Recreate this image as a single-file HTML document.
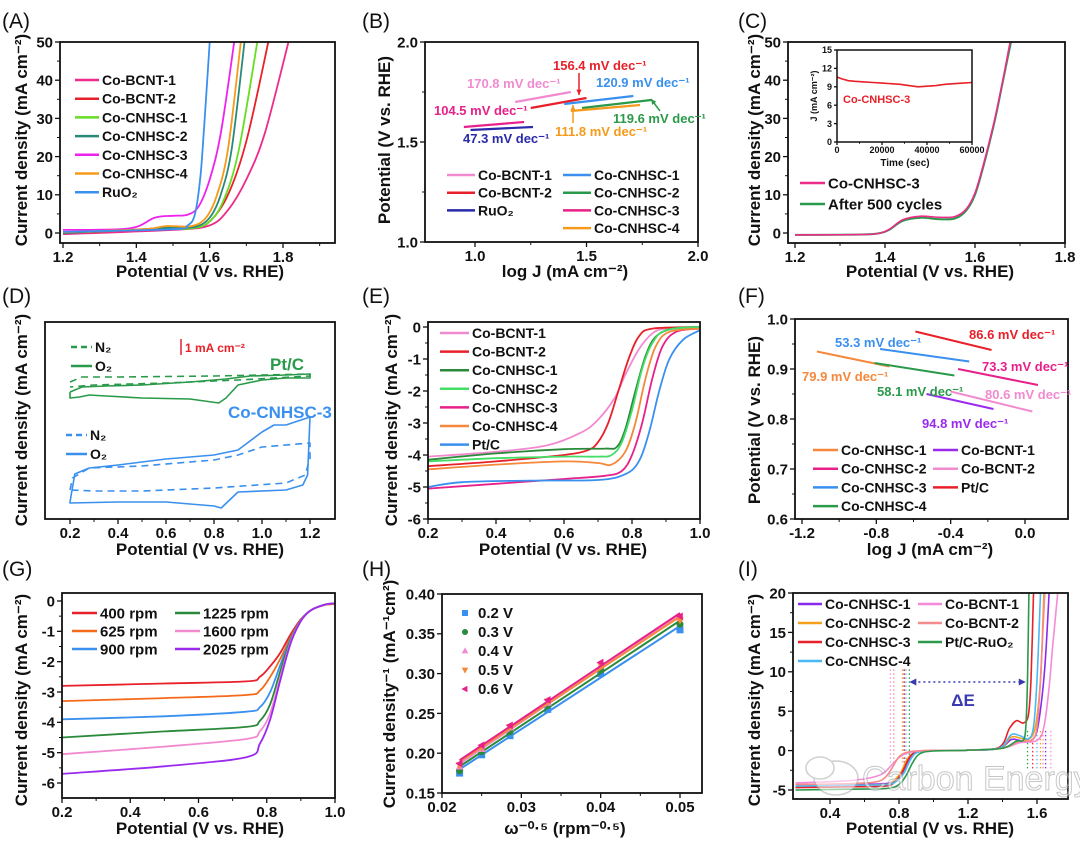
<!DOCTYPE html>
<html><head><meta charset="utf-8"><style>
html,body{margin:0;padding:0;background:#fff;}
svg{display:block;font-family:"Liberation Sans",Arial,sans-serif;}
</style></head><body>
<svg id="fig" width="1080" height="841" viewBox="0 0 1080 841" xmlns="http://www.w3.org/2000/svg"></svg>
<script>
// ===== DATA =====
// Panel A (OER LSV)
const aNames=["Co-BCNT-1","Co-BCNT-2","Co-CNHSC-1","Co-CNHSC-2","Co-CNHSC-3","Co-CNHSC-4","RuO₂"];
const aColors=["#ee2a8a","#e8202a","#66dd22","#2a8a7a","#ee22ee","#f59a1a","#3a90ee"];
const aBCNT1=[[1.2,-0.3],[1.5,0.8],[1.6,2],[1.65,6],[1.7,14],[1.75,26],[1.815,50]];
const aBCNT2=[[1.2,0],[1.45,1],[1.55,1.2],[1.6,3],[1.65,10],[1.7,24],[1.76,50]];
const aCN1=[[1.2,0],[1.45,1],[1.55,1.2],[1.6,3],[1.64,9],[1.68,22],[1.73,50]];
const aCN2=[[1.2,0],[1.42,1],[1.5,1.5],[1.56,1.6],[1.6,4],[1.63,10],[1.66,22],[1.695,50]];
const aCN3=[[1.2,0.8],[1.38,1.2],[1.45,4],[1.5,4.5],[1.54,4.8],[1.57,7],[1.6,14],[1.63,26],[1.667,50]];
const aCN4=[[1.2,0.2],[1.42,1],[1.48,1.8],[1.55,1.8],[1.59,4],[1.62,10],[1.65,22],[1.685,50]];
const aRuO2=[[1.2,0.3],[1.5,1],[1.54,2],[1.56,5],[1.575,15],[1.585,28],[1.6,50]];
// Panel B (Tafel OER) segments [x1,y1,x2,y2]
const bNames=["Co-BCNT-1","Co-BCNT-2","RuO₂","Co-CNHSC-1","Co-CNHSC-2","Co-CNHSC-3","Co-CNHSC-4"];
const bColors=["#f28ad0","#e8202a","#2a2aaa","#3a90ee","#2a9a4a","#e8208a","#f59a1a"];
const bSegs=[[1.18,1.70,1.43,1.75],[1.25,1.67,1.5,1.72],[0.98,1.56,1.26,1.575],[1.4,1.69,1.71,1.73],[1.48,1.67,1.79,1.71],[0.95,1.575,1.22,1.60],[1.43,1.655,1.74,1.685]];
// Panel C
const cFresh=[[1.2,-0.5],[1.35,-0.4],[1.39,0],[1.41,1],[1.44,3.5],[1.48,4.4],[1.52,4.1],[1.555,4.3],[1.58,6.2],[1.6,10.5],[1.62,18.5],[1.645,30.5],[1.665,42],[1.678,50]];
const cAfter=[[1.2,-0.5],[1.35,-0.4],[1.39,0],[1.41,0.9],[1.44,3.2],[1.48,4.0],[1.52,3.6],[1.555,3.8],[1.58,5.8],[1.6,10],[1.62,18],[1.645,30],[1.665,41.5],[1.68,50]];
const cTime=[0,2000,5000,8000,12000,16000,20000,24000,28000,32000,36000,40000,44000,48000,52000,56000,60000];
const cJ=[10.6,10.3,10.0,9.9,9.8,9.7,9.6,9.5,9.4,9.2,9.0,9.1,9.2,9.4,9.5,9.6,9.7];
// Panel D (CV, arbitrary units)
const dPtO2=[[0.2,127],[0.25,132],[0.35,133],[0.5,134],[0.7,137],[0.85,140],[0.95,143],[1.1,144],[1.2,145],[1.2,141],[1.1,141],[1.0,139],[0.9,134],[0.85,121],[0.82,116],[0.7,120],[0.5,121],[0.35,123],[0.28,124],[0.24,122],[0.2,121],[0.2,127]];
const dPtN2=[[0.2,137],[0.25,142],[0.4,142],[0.8,143],[1.2,145],[1.2,143],[0.9,139],[0.6,136],[0.3,134],[0.2,132]];
const dCoO2=[[0.2,17],[0.22,45],[0.28,51],[0.4,54],[0.6,60],[0.8,64],[0.9,69],[1.0,87],[1.05,94],[1.1,94],[1.2,102],[1.19,44],[1.17,34],[1.1,29],[0.9,27],[0.83,11],[0.8,13],[0.6,17],[0.4,17],[0.2,16],[0.2,17]];
const dCoN2=[[0.2,29],[0.21,41],[0.28,51],[0.5,53],[0.8,59],[0.9,64],[1.0,72],[1.2,76],[1.2,61],[1.18,44],[1.1,36],[0.8,31],[0.5,28],[0.3,28],[0.2,29]];
// Panel E (ORR LSV)
const eNames=["Co-BCNT-1","Co-BCNT-2","Co-CNHSC-1","Co-CNHSC-2","Co-CNHSC-3","Co-CNHSC-4","Pt/C"];
const eColors=["#f28ad0","#e8202a","#2a8a3a","#44dd66","#e8208a","#f5883a","#3a90ee"];
const eBCNT1=[[0.2,-4.05],[0.4,-3.9],[0.55,-3.7],[0.65,-3.3],[0.7,-2.9],[0.75,-2.2],[0.78,-1.5],[0.82,-0.7],[0.86,-0.2],[0.9,-0.05],[1.0,0]];
const eBCNT2=[[0.2,-4.35],[0.4,-4.2],[0.6,-4.0],[0.67,-3.85],[0.7,-3.6],[0.73,-3.0],[0.76,-2.0],[0.79,-1.0],[0.82,-0.3],[0.86,-0.05],[1.0,0]];
const eCN1=[[0.2,-4.15],[0.4,-3.95],[0.6,-3.82],[0.72,-3.8],[0.755,-3.75],[0.78,-3.2],[0.81,-2.0],[0.84,-0.9],[0.87,-0.3],[0.92,-0.05],[1.0,0]];
const eCN2=[[0.2,-4.2],[0.4,-4.1],[0.6,-4.05],[0.7,-4.05],[0.74,-4.0],[0.77,-3.6],[0.8,-2.6],[0.83,-1.3],[0.86,-0.5],[0.9,-0.1],[1.0,0]];
const eCN3=[[0.2,-5.05],[0.4,-4.9],[0.6,-4.75],[0.72,-4.65],[0.77,-4.5],[0.8,-4.0],[0.83,-3.0],[0.86,-1.6],[0.89,-0.6],[0.93,-0.15],[1.0,-0.05]];
const eCN4=[[0.2,-4.45],[0.4,-4.3],[0.6,-4.2],[0.7,-4.25],[0.74,-4.3],[0.78,-3.9],[0.81,-3.0],[0.84,-1.6],[0.87,-0.6],[0.91,-0.15],[1.0,-0.05]];
const ePt=[[0.2,-5.0],[0.3,-4.85],[0.5,-4.8],[0.7,-4.78],[0.78,-4.6],[0.82,-4.2],[0.85,-3.3],[0.88,-2.0],[0.91,-1.0],[0.95,-0.4],[1.0,-0.1]];
// Panel F (Tafel ORR)
const fNames=["Co-CNHSC-1","Co-CNHSC-2","Co-CNHSC-3","Co-CNHSC-4","Co-BCNT-1","Co-BCNT-2","Pt/C"];
const fColors=["#f5883a","#e8208a","#3a90ee","#2a9a4a","#9a2aee","#f28ad0","#e8202a"];
const fSegs=[[-1.12,0.935,-0.73,0.905],[-0.36,0.90,0.07,0.868],[-0.78,0.94,-0.3,0.915],[-0.81,0.912,-0.38,0.887],[-0.53,0.85,-0.17,0.82],[-0.4,0.855,0.04,0.815],[-0.59,0.975,-0.18,0.938]];
// Panel G (RDE)
const gNames=["400 rpm","625 rpm","900 rpm","1225 rpm","1600 rpm","2025 rpm"];
const gColors=["#e8202a","#f56a1a","#3a90ee","#2a8a3a","#f28ad0","#9a2aee"];
const g400=[[0.2,-2.8],[0.5,-2.72],[0.74,-2.65],[0.78,-2.5],[0.81,-2.15],[0.84,-1.7],[0.87,-1.1],[0.9,-0.6],[0.93,-0.3],[0.97,-0.13],[1.0,-0.1]];
const g625=[[0.2,-3.3],[0.5,-3.2],[0.74,-3.1],[0.78,-2.95],[0.81,-2.5],[0.84,-1.9],[0.87,-1.2],[0.9,-0.62],[0.93,-0.3],[0.97,-0.13],[1.0,-0.1]];
const g900=[[0.2,-3.9],[0.5,-3.8],[0.74,-3.65],[0.78,-3.5],[0.81,-3.0],[0.84,-2.1],[0.87,-1.25],[0.9,-0.63],[0.93,-0.3],[0.97,-0.12],[1.0,-0.08]];
const g1225=[[0.2,-4.5],[0.5,-4.3],[0.74,-4.15],[0.78,-3.95],[0.81,-3.4],[0.84,-2.3],[0.87,-1.3],[0.9,-0.64],[0.93,-0.3],[0.97,-0.12],[1.0,-0.08]];
const g1600=[[0.2,-5.05],[0.5,-4.8],[0.74,-4.55],[0.78,-4.3],[0.81,-3.7],[0.84,-2.5],[0.87,-1.35],[0.9,-0.65],[0.93,-0.3],[0.97,-0.12],[1.0,-0.08]];
const g2025=[[0.2,-5.7],[0.5,-5.45],[0.74,-5.15],[0.78,-4.7],[0.81,-3.9],[0.84,-2.6],[0.87,-1.4],[0.9,-0.66],[0.93,-0.3],[0.97,-0.12],[1.0,-0.08]];
// Panel H (K-L)
const hX=[0.02222,0.025,0.02857,0.03333,0.04,0.05];
const hNames=["0.2 V","0.3 V","0.4 V","0.5 V","0.6 V"];
const hColors=["#3a90ee","#2a8a3a","#f28ad0","#f5883a","#e8208a"];
const hMarkers=["square","circle","up","down","left"];
const h02=[0.175,0.198,0.222,0.255,0.30,0.355];
const h03=[0.178,0.202,0.227,0.26,0.305,0.362];
const h04=[0.183,0.205,0.232,0.263,0.31,0.37];
const h05=[0.185,0.207,0.233,0.265,0.311,0.367];
const h06=[0.187,0.21,0.235,0.267,0.314,0.372];
// Panel I (bifunctional)
const iNames=["Co-CNHSC-1","Co-CNHSC-2","Co-CNHSC-3","Co-CNHSC-4","Co-BCNT-1","Co-BCNT-2","Pt/C-RuO₂"];
const iColors=["#8a2aee","#f5a01a","#e8202a","#4ab8f5","#f58ad8","#f58a8a","#2a9a4a"];
const iCN1=[[0.2,-4.4],[0.5,-4.3],[0.72,-4.2],[0.78,-3.7],[0.82,-2.8],[0.86,-1.0],[0.9,-0.2],[1.0,0],[1.2,0.05],[1.38,0.3],[1.45,1.4],[1.5,1.3],[1.56,1.2],[1.6,2.5],[1.63,7],[1.65,12],[1.67,20]];
const iCN2=[[0.2,-4.5],[0.5,-4.4],[0.72,-4.3],[0.77,-3.8],[0.81,-2.8],[0.85,-1.0],[0.9,-0.2],[1.0,0],[1.2,0.05],[1.38,0.3],[1.45,1.7],[1.5,1.6],[1.55,1.4],[1.59,3],[1.62,9],[1.64,20]];
const iCN3=[[0.2,-4.7],[0.5,-4.6],[0.72,-4.5],[0.78,-3.9],[0.82,-2.7],[0.86,-0.9],[0.9,-0.2],[1.0,0],[1.2,0.05],[1.38,0.4],[1.44,2.8],[1.48,3.8],[1.52,3.5],[1.55,4.5],[1.565,9],[1.58,20]];
const iCN4=[[0.2,-4.5],[0.5,-4.4],[0.73,-4.3],[0.79,-3.8],[0.83,-2.8],[0.87,-1.0],[0.91,-0.2],[1.0,0],[1.2,0.05],[1.38,0.3],[1.45,2.0],[1.5,1.9],[1.55,1.5],[1.58,3],[1.6,9],[1.62,20]];
const iBCNT1=[[0.2,-4.1],[0.45,-3.9],[0.6,-3.6],[0.7,-3.0],[0.75,-2.0],[0.8,-0.9],[0.85,-0.3],[0.95,0],[1.2,0.05],[1.4,0.3],[1.5,1.0],[1.6,1.3],[1.64,3],[1.67,8],[1.69,13],[1.72,20]];
const iBCNT2=[[0.2,-4.3],[0.5,-4.2],[0.66,-4.0],[0.72,-3.4],[0.76,-2.2],[0.8,-0.8],[0.85,-0.2],[0.95,0],[1.2,0.05],[1.4,0.3],[1.5,1.2],[1.57,1.3],[1.6,3],[1.62,9],[1.645,20]];
const iPt=[[0.2,-5.0],[0.5,-4.9],[0.73,-4.8],[0.8,-4.3],[0.84,-3.2],[0.88,-1.5],[0.92,-0.4],[1.0,-0.05],[1.2,0.05],[1.4,0.3],[1.48,1.2],[1.52,1.3],[1.535,3],[1.545,9],[1.553,20]];
const iORR=[0.83,0.82,0.83,0.84,0.75,0.77,0.86];
const iOER=[1.65,1.62,1.575,1.6,1.68,1.635,1.545];

// ===== HELPERS =====
const NS="http://www.w3.org/2000/svg";
const svg=document.getElementById('fig');
function mk(tag,attrs,parent){const e=document.createElementNS(NS,tag);for(const k in attrs)e.setAttribute(k,attrs[k]);(parent||svg).appendChild(e);return e;}
function txt(s,x,y,o,parent){o=o||{};const t=mk('text',{x:x,y:y,'font-size':o.size||15,'font-weight':o.weight||'bold',fill:o.fill||'#111','text-anchor':o.anchor||'start'},parent);if(o.rot)t.setAttribute('transform','rotate(-90 '+x+' '+y+')');t.textContent=s;return t;}
function scale(d0,d1,p0,p1){return v=>p0+(v-d0)*(p1-p0)/(d1-d0);}
let clipN=0;
function panel(o){
  const g=mk('g',{});
  
  
  const sx=scale(o.xd[0],o.xd[1],o.xp[0],o.xp[1]);
  const sy=scale(o.yd[0],o.yd[1],o.yp[0],o.yp[1]);
  const [l,t,r,b]=o.box;const fs=o.fs||15;const tl=o.tl||5;
  const id='clip'+(clipN++);
  const cp=mk('clipPath',{id:id},g);mk('rect',{x:l,y:t,width:r-l,height:b-t},cp);
  const plot=mk('g',{'clip-path':'url(#'+id+')'},g);
  const ax=mk('g',{},g);
  
  
  (o.xticks||[]).forEach((v,i)=>{const x=sx(v);mk('line',{x1:x,y1:b,x2:x,y2:b+tl,stroke:'#111','stroke-width':1.3},ax);
    const lab=txt(o.xlabels[i],x,b+tl+fs-1,{size:fs,anchor:'middle'},ax);});
  (o.xminor||[]).forEach(v=>{const x=sx(v);mk('line',{x1:x,y1:b,x2:x,y2:b+tl*0.6,stroke:'#111','stroke-width':1},ax);});
  (o.yticks||[]).forEach((v,i)=>{const y=sy(v);mk('line',{x1:l-tl,y1:y,x2:l,y2:y,stroke:'#111','stroke-width':1.3},ax);
    const lab=txt(o.ylabels[i],l-tl-2,y+fs*0.36,{size:fs,anchor:'end'},ax);});
  (o.yminor||[]).forEach(v=>{const y=sy(v);mk('line',{x1:l-tl*0.6,y1:y,x2:l,y2:y,stroke:'#111','stroke-width':1},ax);});
  mk('rect',{x:l,y:t,width:r-l,height:b-t,fill:'none',stroke:'#111','stroke-width':o.bw||1.8},ax);
  return {g,plot,sx,sy};
}
function smooth(pts,sx,sy){
  const P=pts.map(p=>[sx(p[0]),sy(p[1])]);
  let d='M'+P[0][0].toFixed(1)+','+P[0][1].toFixed(1);
  for(let i=0;i<P.length-1;i++){
    const p0=P[i-1]||P[i],p1=P[i],p2=P[i+1],p3=P[i+2]||P[i+1];
    const c1=[p1[0]+(p2[0]-p0[0])/6,p1[1]+(p2[1]-p0[1])/6];
    const c2=[p2[0]-(p3[0]-p1[0])/6,p2[1]-(p3[1]-p1[1])/6];
    d+=' C'+c1[0].toFixed(1)+','+c1[1].toFixed(1)+' '+c2[0].toFixed(1)+','+c2[1].toFixed(1)+' '+p2[0].toFixed(1)+','+p2[1].toFixed(1);
  }
  return d;
}
function curve(P,pts,color,name,w,dash){const p=mk('path',{d:smooth(pts,P.sx,P.sy),fill:'none',stroke:color,'stroke-width':w||1.8,'stroke-linejoin':'round'},P.plot);if(dash)p.setAttribute('stroke-dasharray',dash);
  
  return p;}
function poly(P,pts,color,name,w,dash){const p=mk('polyline',{points:pts.map(q=>P.sx(q[0]).toFixed(1)+','+P.sy(q[1]).toFixed(1)).join(' '),fill:'none',stroke:color,'stroke-width':w||1.8,'stroke-linejoin':'round'},P.plot);if(dash)p.setAttribute('stroke-dasharray',dash);
  
  return p;}
function legendItem(x,y,len,color,label,fs,dash,parent){const g=mk('g',{},parent);
  
  
  const ln=mk('line',{x1:x,y1:y,x2:x+len,y2:y,stroke:color,'stroke-width':2.5},g);if(dash)ln.setAttribute('stroke-dasharray',dash);
  txt(label,x+len+3,y+fs*0.36,{size:fs},g);}
function letter(s,x,y){const t=txt(s,x,y,{size:21,weight:'normal'});}
function ytitle(s,x,y){const t=txt(s,x,y,{size:17,anchor:'middle',rot:true});}
function xtitle(s,x,y){const t=txt(s,x,y,{size:17,anchor:'middle'});}

// ===== PANEL A =====
letter('(A)',2,28);
const A=panel({name:'panel-a',box:[60,42,335,243],xd:[1.2,1.8],xp:[63,283],yd:[0,50],yp:[233,42],
  xticks:[1.2,1.4,1.6,1.8],xlabels:['1.2','1.4','1.6','1.8'],xminor:[1.3,1.5,1.7,1.9],
  yticks:[0,10,20,30,40,50],ylabels:['0','10','20','30','40','50'],yminor:[5,15,25,35,45]});
[aBCNT1,aBCNT2,aCN1,aCN2,aCN3,aCN4,aRuO2].forEach((s,i)=>curve(A,s,aColors[i],'curve-'+aNames[i].toLowerCase().replace(/[^a-z0-9]+/g,'-')));
aNames.forEach((n,i)=>legendItem(75,80+i*18.7,24,aColors[i],n,14,null,A.g));
ytitle('Current density (mA cm⁻²)',27,140);xtitle('Potential (V vs. RHE)',200,277);

// ===== PANEL B =====
letter('(B)',362,28);
const B=panel({name:'panel-b',box:[425,42,698,242],xd:[1,2],xp:[475,698],yd:[1,2],yp:[242,42],
  xticks:[1,1.5,2],xlabels:['1.0','1.5','2.0'],xminor:[1.25,1.75],
  yticks:[1,1.5,2],ylabels:['1.0','1.5','2.0'],yminor:[1.25,1.75]});
bSegs.forEach((s,i)=>{const l=mk('line',{x1:B.sx(s[0]),y1:B.sy(s[1]),x2:B.sx(s[2]),y2:B.sy(s[3]),stroke:bColors[i],'stroke-width':2.2},B.plot);
  
  });
[['156.4 mV dec⁻¹',553,70,'#e8202a'],['170.8 mV dec⁻¹',467,88,'#f28ad0'],['120.9 mV dec⁻¹',596,87,'#3a90ee'],['104.5 mV dec⁻¹',434,115,'#e8208a'],['47.3 mV dec⁻¹',463,143,'#2a2aaa'],['111.8 mV dec⁻¹',555,136,'#f59a1a'],['119.6 mV dec⁻¹',613,123,'#2a9a4a']].forEach(a=>{const t=txt(a[0],a[1],a[2],{size:13,fill:a[3]});});
function arrow(x1,y1,x2,y2,c,w){mk('line',{x1,y1,x2,y2,stroke:c,'stroke-width':w||1.5});const a=Math.atan2(y2-y1,x2-x1),L=6;
  mk('polygon',{points:`${x2},${y2} ${x2-L*Math.cos(a-0.45)},${y2-L*Math.sin(a-0.45)} ${x2-L*Math.cos(a+0.45)},${y2-L*Math.sin(a+0.45)}`,fill:c});}
arrow(579,73,579,95,'#e8202a');arrow(573,123,573,105,'#f59a1a');arrow(660,111,651,99,'#2a9a4a');
bNames.forEach((n,i)=>{const col=i<3?0:1,row=i<3?i:i-3;legendItem(col?563:447,175+row*17.7,28,bColors[i],n,14,null,B.g);});
ytitle('Potential (V vs. RHE)',390,140);xtitle('log J (mA cm⁻²)',565,277);

// ===== PANEL C =====
letter('(C)',738,28);
const C=panel({name:'panel-c',box:[788,42,1065,243],xd:[1.2,1.8],xp:[795,1065],yd:[0,50],yp:[233,42],
  xticks:[1.2,1.4,1.6,1.8],xlabels:['1.2','1.4','1.6','1.8'],xminor:[1.3,1.5,1.7],
  yticks:[0,10,20,30,40,50],ylabels:['0','10','20','30','40','50'],yminor:[5,15,25,35,45]});
curve(C,cAfter,'#2a9a4a','curve-after-500-cycles',2);
curve(C,cFresh,'#ee2a8a','curve-co-cnhsc-3',1.6);
legendItem(800,183,25,'#ee2a8a','Co-CNHSC-3',15,null,C.g);
legendItem(800,204,25,'#2a9a4a','After 500 cycles',15,null,C.g);
const CI=panel({name:'inset-stability',box:[837,50,972,142],xd:[0,60000],xp:[837,972],yd:[0,15],yp:[142,50],fs:9,tl:3,bw:1.5,
  xticks:[0,20000,40000,60000],xlabels:['0','20000','40000','60000'],xminor:[10000,30000,50000],
  yticks:[0,3,6,9,12,15],ylabels:['0','3','6','9','12','15']});
{const p=mk('polyline',{points:cTime.map((t,i)=>CI.sx(t).toFixed(1)+','+CI.sy(cJ[i]).toFixed(1)).join(' '),fill:'none',stroke:'#e8202a','stroke-width':1.6},CI.plot);
 
 }
txt('Co-CNHSC-3',843,103,{size:11,fill:'#e8202a'});
txt('Time (sec)',905,166,{size:10,anchor:'middle'});
txt('J (mA cm⁻²)',817,96,{size:9,anchor:'middle',rot:true});
ytitle('Current density (mA cm⁻²)',760,140);xtitle('Potential (V vs. RHE)',930,277);

// ===== PANEL D =====
letter('(D)',2,303);
const D=panel({name:'panel-d',box:[45,322,335,519],xd:[0.2,1.2],xp:[70,310],yd:[0,197],yp:[519,322],
  xticks:[0.2,0.4,0.6,0.8,1.0,1.2],xlabels:['0.2','0.4','0.6','0.8','1.0','1.2'],xminor:[0.3,0.5,0.7,0.9,1.1]});
poly(D,dPtN2,'#2a9a4a','cv-ptc-n2',1.6,'7,5');
poly(D,dPtO2,'#2a9a4a','cv-ptc-o2',1.6);
poly(D,dCoN2,'#3a90ee','cv-co-n2',1.6,'7,5');
poly(D,dCoO2,'#3a90ee','cv-co-o2',1.6);
legendItem(71,347,21,'#2a9a4a','N₂',14,'6,4',D.g);
legendItem(71,366,21,'#2a9a4a','O₂',14,null,D.g);
legendItem(66,435,21,'#3a90ee','N₂',14,'6,4',D.g);
legendItem(66,454,21,'#3a90ee','O₂',14,null,D.g);
mk('line',{x1:181,y1:339,x2:181,y2:355,stroke:'#e8202a','stroke-width':1.5});
txt('1 mA cm⁻²',185,352,{size:12,fill:'#e8202a'});
txt('Pt/C',270,370,{size:17,fill:'#2a9a4a'});
txt('Co-CNHSC-3',228,418,{size:17,fill:'#3a90ee'});
ytitle('Current density (mA cm⁻²)',27,420);xtitle('Potential (V vs. RHE)',200,555);

// ===== PANEL E =====
letter('(E)',362,303);
const E=panel({name:'panel-e',box:[428,322,700,519],xd:[0.2,1.0],xp:[428,700],yd:[-6,0],yp:[519,327],
  xticks:[0.2,0.4,0.6,0.8,1.0],xlabels:['0.2','0.4','0.6','0.8','1.0'],xminor:[0.3,0.5,0.7,0.9],
  yticks:[-6,-5,-4,-3,-2,-1,0],ylabels:['-6','-5','-4','-3','-2','-1','0'],yminor:[-5.5,-4.5,-3.5,-2.5,-1.5,-0.5]});
[eBCNT1,eBCNT2,eCN1,eCN2,eCN3,eCN4,ePt].forEach((s,i)=>curve(E,s,eColors[i],'curve-'+eNames[i].toLowerCase().replace(/[^a-z0-9]+/g,'-')));
eNames.forEach((n,i)=>legendItem(440,333+i*18.6,29,eColors[i],n,14,null,E.g));
ytitle('Current density (mA cm⁻²)',397,420);xtitle('Potential (V vs. RHE)',563,555);

// ===== PANEL F =====
letter('(F)',738,303);
const F=panel({name:'panel-f',box:[795,319,1068,519],xd:[-1.2,0],xp:[802,1025],yd:[0.6,1.0],yp:[519,319],
  xticks:[-1.2,-0.8,-0.4,0],xlabels:['-1.2','-0.8','-0.4','0.0'],xminor:[-1.0,-0.6,-0.2],
  yticks:[0.6,0.7,0.8,0.9,1.0],ylabels:['0.6','0.7','0.8','0.9','1.0'],yminor:[0.65,0.75,0.85,0.95]});
fSegs.forEach((s,i)=>{const l=mk('line',{x1:F.sx(s[0]),y1:F.sy(s[1]),x2:F.sx(s[2]),y2:F.sy(s[3]),stroke:fColors[i],'stroke-width':2},F.plot);
  
  });
[['53.3 mV dec⁻¹',835,347,'#3a90ee'],['86.6 mV dec⁻¹',969,339,'#e8202a'],['73.3 mV dec⁻¹',982,371,'#e8208a'],['79.9 mV dec⁻¹',802,381,'#f5883a'],['58.1 mV dec⁻¹',877,396,'#2a9a4a'],['80.6 mV dec⁻¹',985,399,'#f28ad0'],['94.8 mV dec⁻¹',922,428,'#9a2aee']].forEach(a=>{const t=txt(a[0],a[1],a[2],{size:13,fill:a[3]});});
fNames.forEach((n,i)=>{const col=i<4?0:1,row=i<4?i:i-4;legendItem(col?933:813,450+row*18.7,25,fColors[i],n,14,null,F.g);});
ytitle('Potential (V vs. RHE)',760,420);xtitle('log J (mA cm⁻²)',930,555);

// ===== PANEL G =====
letter('(G)',2,576);
const G=panel({name:'panel-g',box:[62,593,335,798],xd:[0.2,1.0],xp:[62,335],yd:[-6,0],yp:[783,601],
  xticks:[0.2,0.4,0.6,0.8,1.0],xlabels:['0.2','0.4','0.6','0.8','1.0'],xminor:[0.3,0.5,0.7,0.9],
  yticks:[-6,-5,-4,-3,-2,-1,0],ylabels:['-6','-5','-4','-3','-2','-1','0'],yminor:[-5.5,-4.5,-3.5,-2.5,-1.5,-0.5]});
[g400,g625,g900,g1225,g1600,g2025].forEach((s,i)=>curve(G,s,gColors[i],'curve-'+gNames[i].replace(' ','-')));
gNames.forEach((n,i)=>{const col=i<3?0:1,row=i%3;legendItem(col?175:72,613+row*18,25,gColors[i],n,15,null,G.g);});
ytitle('Current density (mA cm⁻²)',27,700);xtitle('Potential (V vs. RHE)',200,834);

// ===== PANEL H =====
letter('(H)',362,576);
const H=panel({name:'panel-h',box:[442,594,702,793],xd:[0.02,0.05],xp:[442,680],yd:[0.15,0.40],yp:[793,594],
  xticks:[0.02,0.03,0.04,0.05],xlabels:['0.02','0.03','0.04','0.05'],xminor:[0.025,0.035,0.045],
  yticks:[0.15,0.2,0.25,0.3,0.35,0.4],ylabels:['0.15','0.20','0.25','0.30','0.35','0.40']});
function marker(par,kind,x,y,c,s){s=s||3.5;let e;
  if(kind==='square')e=mk('rect',{x:x-s,y:y-s,width:2*s,height:2*s,fill:c},par);
  else if(kind==='circle')e=mk('circle',{cx:x,cy:y,r:s,fill:c},par);
  else if(kind==='up')e=mk('polygon',{points:`${x},${y-s*1.2} ${x-s*1.1},${y+s*0.8} ${x+s*1.1},${y+s*0.8}`,fill:c},par);
  else if(kind==='down')e=mk('polygon',{points:`${x},${y+s*1.2} ${x-s*1.1},${y-s*0.8} ${x+s*1.1},${y-s*0.8}`,fill:c},par);
  else e=mk('polygon',{points:`${x-s*1.2},${y} ${x+s*0.8},${y-s*1.1} ${x+s*0.8},${y+s*1.1}`,fill:c},par);
  return e;}
[h02,h03,h04,h05,h06].forEach((ys,k)=>{
  const n=hX.length;let mx=0,my=0;hX.forEach((x,i)=>{mx+=x;my+=ys[i];});mx/=n;my/=n;
  let sxy=0,sxx=0;hX.forEach((x,i)=>{sxy+=(x-mx)*(ys[i]-my);sxx+=(x-mx)*(x-mx);});
  const m=sxy/sxx,c0=my-m*mx;const xa=hX[0],xb=hX[n-1];
  const l=mk('line',{x1:H.sx(xa),y1:H.sy(m*xa+c0),x2:H.sx(xb),y2:H.sy(m*xb+c0),stroke:hColors[k],'stroke-width':2},H.plot);
  
  
  hX.forEach((x,i)=>{const e=marker(H.plot,hMarkers[k],H.sx(x),H.sy(ys[i]),hColors[k]);
    
    });
});
hNames.forEach((n,k)=>{marker(H.g,hMarkers[k],465,613+k*19,hColors[k],3);txt(n,478,618+k*19,{size:15});});
ytitle('Current density⁻¹ (mA⁻¹cm²)',395,694);xtitle('ω⁻⁰·⁵ (rpm⁻⁰·⁵)',565,834);

// ===== PANEL I =====
letter('(I)',738,576);
const I=panel({name:'panel-i',box:[793,593,1068,799],xd:[0.4,1.6],xp:[830,1037],yd:[-5,20],yp:[790,593],
  xticks:[0.4,0.8,1.2,1.6],xlabels:['0.4','0.8','1.2','1.6'],xminor:[0.6,1.0,1.4],
  yticks:[-5,0,5,10,15,20],ylabels:['-5','0','5','10','15','20'],yminor:[-2.5,2.5,7.5,12.5,17.5]});
iORR.forEach((v,i)=>{const l=mk('line',{x1:I.sx(v),y1:I.sy(10.3),x2:I.sx(v),y2:I.sy(-1.5),stroke:iColors[i],'stroke-width':1.2,'stroke-dasharray':'1.5,2.5'},I.plot);
  
  });
iOER.forEach((v,i)=>{const l=mk('line',{x1:I.sx(v),y1:I.sy(2.5),x2:I.sx(v),y2:I.sy(-2.3),stroke:iColors[i],'stroke-width':1.2,'stroke-dasharray':'1.5,2.5'},I.plot);
  
  });
[iCN1,iCN2,iCN3,iCN4,iBCNT1,iBCNT2,iPt].forEach((s,i)=>curve(I,s,iColors[i],'curve-'+iNames[i].toLowerCase().replace(/[^a-z0-9]+/g,'-'),1.6));
{const y=I.sy(8.7),x1=I.sx(0.86),x2=I.sx(1.535);mk('line',{x1:x1+4,y1:y,x2:x2-4,y2:y,stroke:'#3a3ab0','stroke-width':1.5,'stroke-dasharray':'2,3'});
 mk('polygon',{points:`${x1},${y} ${x1+7},${y-3.5} ${x1+7},${y+3.5}`,fill:'#3a3ab0'});
 mk('polygon',{points:`${x2},${y} ${x2-7},${y-3.5} ${x2-7},${y+3.5}`,fill:'#3a3ab0'});
 txt('ΔE',963,706,{size:17,fill:'#3a3ab0',anchor:'middle'});}
iNames.forEach((n,i)=>{const col=i<4?0:1,row=i<4?i:i-4;legendItem(col?918:798,604+row*19,24,iColors[i],n,14,null,I.g);});
ytitle('Current density (mA cm⁻²)',760,700);xtitle('Potential (V vs. RHE)',930,834);
// watermark
{const w=mk('g',{opacity:0.55});
 
 
 mk('ellipse',{cx:836,cy:778,rx:22,ry:17,fill:'#fff',stroke:'#aaa','stroke-width':1.5},w);
 mk('ellipse',{cx:820,cy:768,rx:14,ry:11,fill:'#fff',stroke:'#aaa','stroke-width':1.5},w);
 txt('Carbon Energy',862,790,{size:34,weight:'normal',fill:'#fff'},w).setAttribute('stroke','#999');}
</script>
</body></html>
